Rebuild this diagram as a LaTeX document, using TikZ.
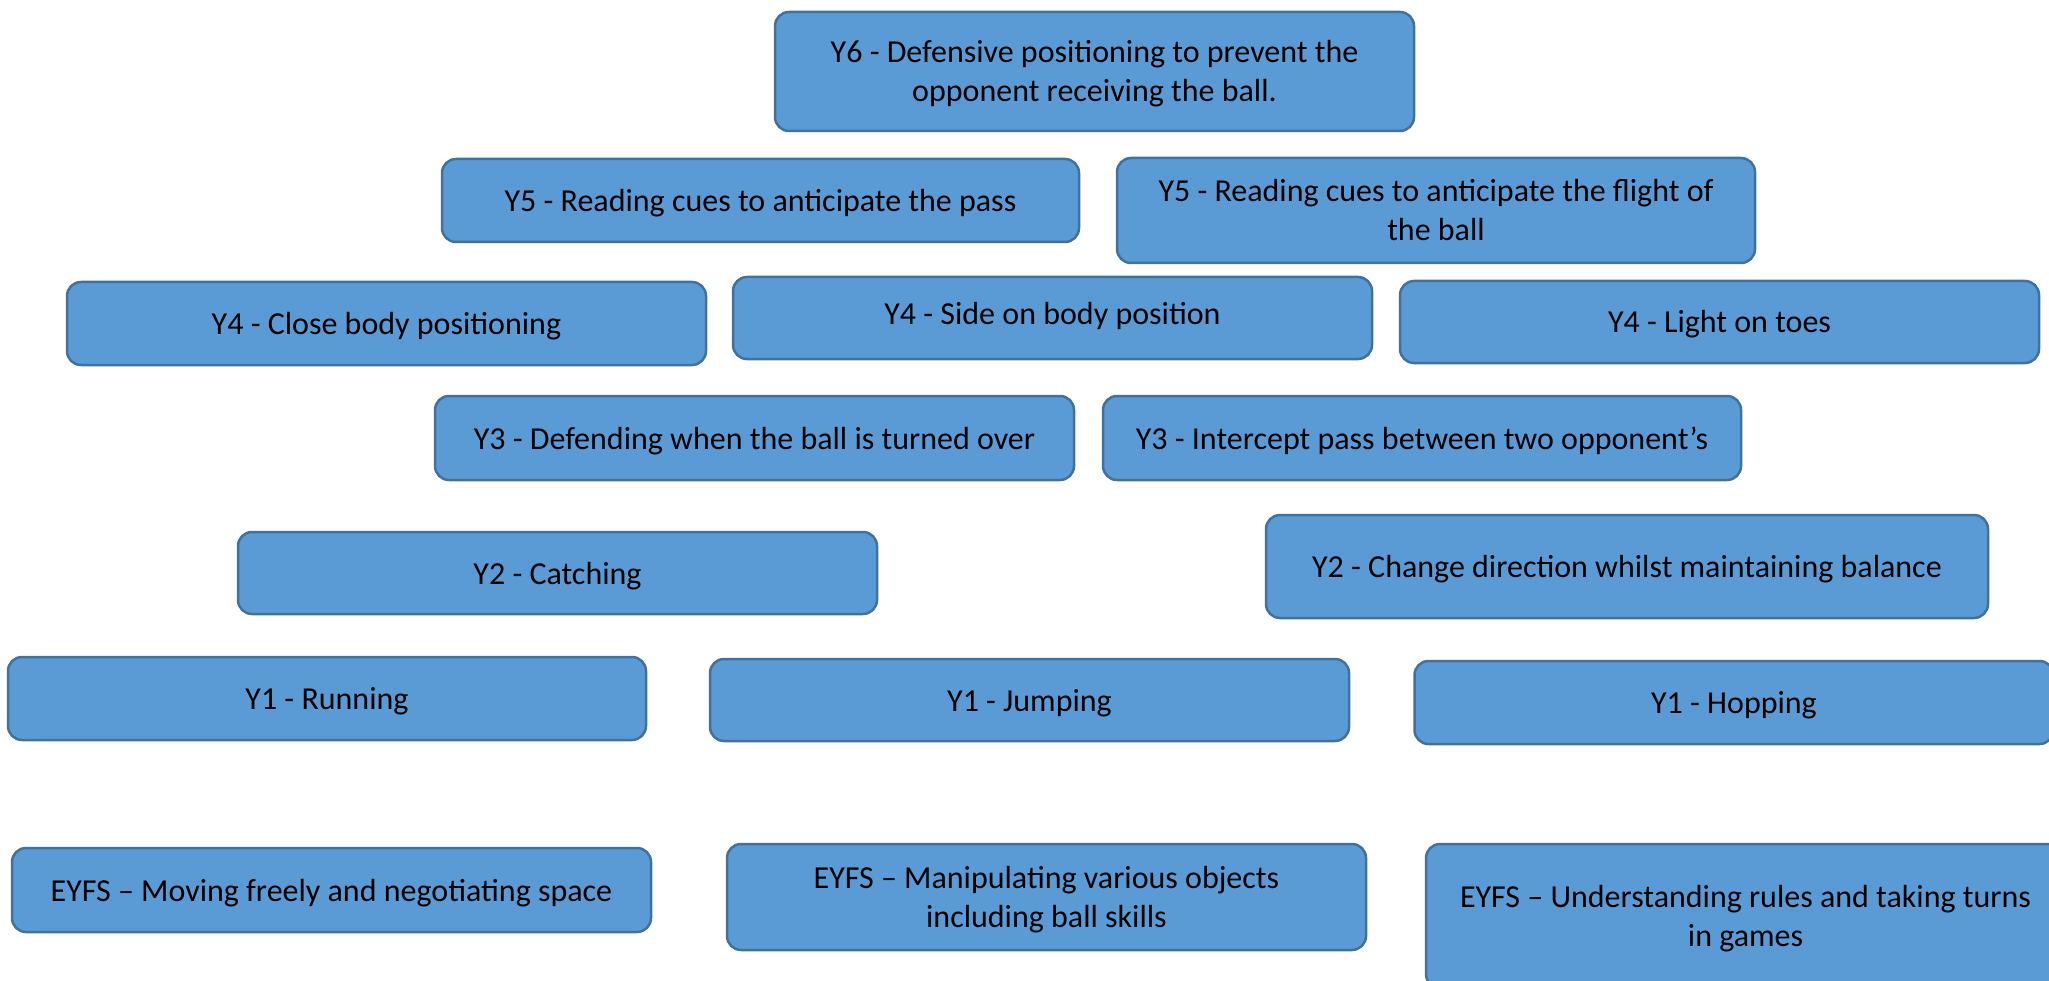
\documentclass[tikz,border=0pt]{standalone}
\usepackage{fontspec}
\setmainfont{Carlito}
\definecolor{boxfill}{HTML}{5B9BD5}
\definecolor{boxline}{HTML}{41719C}
\tikzset{
  skillbox/.style={draw=boxline, fill=boxfill, line width=2.5pt, rounded corners=14pt,
    inner sep=0pt, align=center, font=\fontsize{32}{39}\selectfont, text=black,
    text height=29pt, text depth=7pt},
  twoline/.style={text height=68pt, text depth=7pt},
}
\begin{document}
\begin{tikzpicture}[x=1pt,y=-1pt]
\useasboundingbox (0,0) rectangle (2049,981);
\clip (0,0) rectangle (2049,981);
\node[skillbox, twoline, minimum width=639, minimum height=119] (y6) at (1094.5,71.5) {Y6 - Defensive positioning to prevent the\\opponent receiving the ball.};
\node[skillbox, minimum width=637, minimum height=83] (y5a) at (760.5,200.5) {Y5 - Reading cues to anticipate the pass};
\node[skillbox, twoline, minimum width=638, minimum height=105] (y5b) at (1436,210.5) {Y5 - Reading cues to anticipate the flight of\\the ball};
\node[skillbox, minimum width=639, minimum height=83] (y4a) at (386.5,323.5) {Y4 - Close body positioning};
\node[skillbox, minimum width=639, minimum height=82, text height=22pt, text depth=8pt] (y4b) at (1052.5,318) {Y4 - Side on body position};
\node[skillbox, minimum width=639, minimum height=82] (y4c) at (1719.5,322) {Y4 - Light on toes};
\node[skillbox, minimum width=639, minimum height=84] (y3a) at (754.5,438) {Y3 - Defending when the ball is turned over};
\node[skillbox, minimum width=638, minimum height=84] (y3b) at (1422,438) {Y3 - Intercept pass between two opponent’s};
\node[skillbox, minimum width=639, minimum height=82] (y2a) at (557.5,573) {Y2 - Catching};
\node[skillbox, minimum width=722, minimum height=103] (y2b) at (1627,566.5) {Y2 - Change direction whilst maintaining balance};
\node[skillbox, minimum width=638, minimum height=83] (y1a) at (327,698.5) {Y1 - Running};
\node[skillbox, minimum width=639, minimum height=82] (y1b) at (1029.5,700) {Y1 - Jumping};
\node[skillbox, minimum width=639, minimum height=83] (y1c) at (1734,702.5) {Y1 - Hopping};
\node[skillbox, minimum width=639, minimum height=84] (e1) at (331.5,890) {EYFS – Moving freely and negotiating space};
\node[skillbox, twoline, minimum width=639, minimum height=106] (e2) at (1046.5,897) {EYFS – Manipulating various objects\\including ball skills};
\node[skillbox, twoline, minimum width=639, minimum height=144] (e3) at (1745.5,916) {EYFS – Understanding rules and taking turns\\in games};
\end{tikzpicture}
\end{document}
